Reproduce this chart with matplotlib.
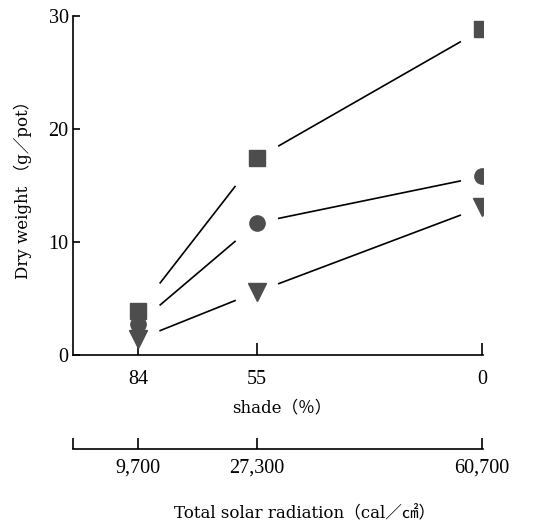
import numpy as np
import matplotlib
matplotlib.use("Agg")
import matplotlib.pyplot as plt

plt.rcParams['font.family'] = ['Liberation Serif', 'Noto Sans CJK JP', 'DejaVu Sans']
label_font = ['DejaVu Serif', 'Noto Sans CJK JP']

# solar radiation (cal/cm2) for each shade level
radiation = [9700, 27300, 60700]
shade_labels = ['84', '55', '0']

# dry weight (g/pot)
square_vals = [3.9, 17.4, 28.8]
circle_vals = [2.8, 11.7, 15.8]
triangle_vals = [1.4, 5.6, 13.1]

fig = plt.figure(figsize=(5.48, 5.27), dpi=100)
ax = fig.add_axes([0.133, 0.326, 0.748, 0.644])

mark_col = '#4d4d4d'
gap = 3250  # horizontal gap (data units) between line ends and markers


def gapped_line(xs, ys):
    for i in range(len(xs) - 1):
        x0, x1 = xs[i] + gap, xs[i + 1] - gap
        y0 = np.interp(x0, [xs[i], xs[i + 1]], [ys[i], ys[i + 1]])
        y1 = np.interp(x1, [xs[i], xs[i + 1]], [ys[i], ys[i + 1]])
        ax.plot([x0, x1], [y0, y1], color='black', lw=1.2, zorder=2)


for vals in (square_vals, circle_vals, triangle_vals):
    gapped_line(radiation, vals)

ax.plot(radiation, square_vals, 's', ms=11, color=mark_col, zorder=3)
ax.plot(radiation, circle_vals, 'o', ms=11, color=mark_col, zorder=3)
ax.plot(radiation, triangle_vals, 'v', ms=13, color=mark_col, zorder=4)

ax.set_xlim(0, 60800)
ax.set_ylim(0, 30)
ax.spines['top'].set_visible(False)
ax.spines['right'].set_visible(False)
ax.spines['left'].set_linewidth(1.2)
ax.spines['bottom'].set_linewidth(1.2)
ax.set_yticks([0, 10, 20, 30])
ax.tick_params(axis='y', direction='in', length=5, width=1.2, labelsize=14.5, pad=3)
ax.set_xticks(radiation)
ax.set_xticklabels(shade_labels)
ax.tick_params(axis='x', direction='in', length=9, width=1.2, labelsize=14.5, pad=11)
ax.set_xlabel('shade（％）', fontsize=12, labelpad=7, family=label_font)
ax.xaxis.label.set_x(0.51)
ax.set_ylabel('Dry weight （g／pot）', fontsize=12, labelpad=12, family=label_font)

# second scale: total solar radiation
ax2 = fig.add_axes([0.133, 0.148, 0.748, 0.0001])
ax2.set_xlim(0, 60800)
for s in ('top', 'right', 'left'):
    ax2.spines[s].set_visible(False)
ax2.spines['bottom'].set_linewidth(1.2)
ax2.set_yticks([])
ax2.set_xticks([0] + radiation)
ax2.set_xticklabels([''] + [f'{r:,}' for r in radiation])
ax2.tick_params(axis='x', direction='in', length=8, width=1.2, labelsize=14.5, pad=7)
ax2.set_xlabel('Total solar radiation（cal／㎠）', fontsize=12, labelpad=20, family=label_font)
ax2.xaxis.label.set_x(0.565)

fig.savefig('out.png', dpi=100)
